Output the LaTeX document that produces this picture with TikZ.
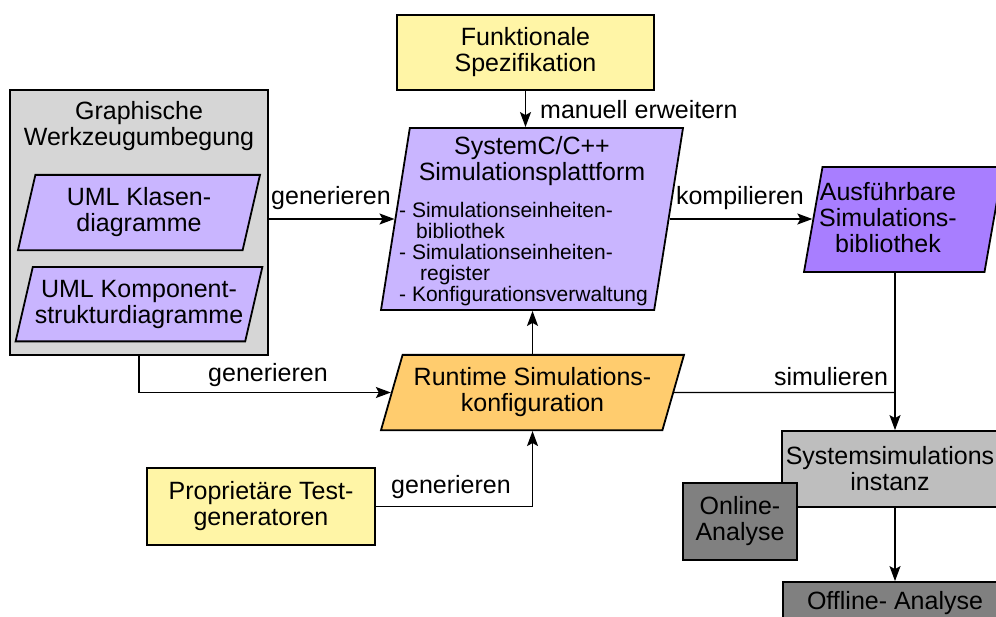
\documentclass[tikz,border=0pt]{standalone}
\usepackage{fontspec}
\setmainfont{Liberation Sans}
\usetikzlibrary{positioning,arrows.meta,shapes.geometric}

\definecolor{specyellow}{RGB}{255,245,166}
\definecolor{toolgray}{RGB}{214,214,214}
\definecolor{umllila}{RGB}{201,181,255}
\definecolor{biblila}{RGB}{168,126,255}
\definecolor{runorange}{RGB}{255,204,110}
\definecolor{instgray}{RGB}{190,190,190}
\definecolor{analysegray}{RGB}{128,128,128}

\begin{document}
\begin{tikzpicture}[
  x=1pt, y=-1pt,
  font=\fontsize{25}{26}\selectfont,
  >={Stealth[length=15pt, width=11pt, inset=3pt]},
  box/.style={draw, line width=1.8pt, inner sep=2pt, align=center},
  rectbox/.style={box, rectangle},
  para/.style={box, trapezium, trapezium stretches body,
               trapezium left angle=#1, trapezium right angle=180-#1},
  txt/.style={inner sep=0pt, align=center},
  liste/.style={inner sep=0pt, align=left, font=\fontsize{21}{21}\selectfont},
  lbl/.style={inner sep=0pt},
  flow/.style={->, line width=1.4pt},
]
\useasboundingbox (0,0) rectangle (996,616);
\clip (0,0) rectangle (996,616);

% ============ inputs: specification and tool environment ============
\node[rectbox, fill=specyellow, minimum width=257, minimum height=75]
  (spec) at (525.5,52.5) {Funktionale\\Spezifikation};

\node[rectbox, fill=toolgray, minimum width=258, minimum height=265]
  (werkzeug) at (139,222.5) {};
\node[txt] (werkzeugtitel) at (139,126) {Graphische\\Werkzeugumbegung};
\node[para=77, fill=umllila, minimum width=242, inner ysep=13pt]
  (klassen) at (139,212.5) {UML Klasen-\\diagramme};
\node[para=77, fill=umllila, minimum width=242, inner ysep=13pt,
      below=15pt of klassen] (komponent) {UML Komponent-\\strukturdiagramme};

% ============ simulation platform ============
\node[para=81, fill=umllila, minimum width=302, inner ysep=78pt]
  (plattform) at (532,219) {\strut};
\node[txt] (plattformtitel) at (532,161) {SystemC/C++\\Simulationsplattform};
\node[liste, anchor=west] (plattformliste) at (399,254)
  {- Simulationseinheiten-\\\hspace*{17pt}bibliothek\\
   - Simulationseinheiten-\\\hspace*{21pt}register\\
   - Konfigurationsverwaltung};

\node[para=80, fill=biblila, minimum width=199, inner ysep=39.5pt]
  (ausf) at (903.5,219.5) {\strut};
\node[txt] (ausftext) at (888,218) {Ausführbare\\Simulations-\\bibliothek};

% ============ runtime configuration ============
\node[para=74, fill=runorange, minimum width=303, inner ysep=13pt]
  (runtime) at (532.5,392.5) {Runtime Simulations-\\konfiguration};
\node[rectbox, fill=specyellow, minimum width=228, minimum height=77]
  (testgen) at (261,506.5) {Proprietäre Test-\\generatoren};

% ============ simulation run and analysis ============
\node[rectbox, fill=instgray, minimum width=216, minimum height=76]
  (instanz) at (890,469) {Systemsimulations\\instanz};
\node[rectbox, fill=analysegray, minimum width=114, minimum height=77]
  (online) at (740,521.5) {Online-\\Analyse};
\node[rectbox, fill=analysegray, minimum width=224, minimum height=42]
  (offline) at (895,603) {Offline- Analyse};

% ============ connectors ============
\draw[flow] (spec.south) -- (spec.south |- plattform.north);
\node[lbl, anchor=west] (lblmanuell) at (540,110) {manuell erweitern};

\draw[flow] (plattform.west -| werkzeug.east) -- (plattform.west);
\node[lbl] (lblgen1) at (331,198) {generieren};

\draw[flow] (plattform.east) -- (plattform.east -| ausf.west);
\node[lbl] (lblkomp) at (740,198) {kompilieren};

\draw[flow] (werkzeug.south) |- (runtime.west);
\node[lbl] (lblgen2) at (268,375) {generieren};

\draw[flow] (runtime.north) -- (runtime.north |- plattform.south);

\draw[flow] (testgen.east) -| (runtime.south);
\node[lbl] (lblgen3) at (451,487) {generieren};

\coordinate (simjoin) at (895,392.5);
\draw[line width=1.4pt] (runtime.east) -- (simjoin);
\draw[flow] (simjoin |- ausf.south) -- (simjoin |- instanz.north);
\node[lbl] (lblsim) at (831,377) {simulieren};

\draw[flow] (simjoin |- instanz.south) -- (simjoin |- offline.north);
\end{tikzpicture}
\end{document}
